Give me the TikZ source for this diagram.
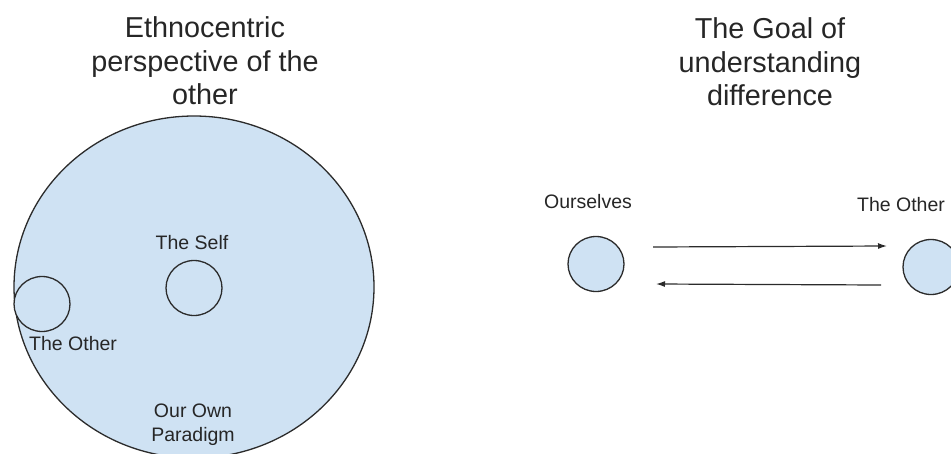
\documentclass[tikz,border=0pt]{standalone}
\usepackage{fontspec}
\setmainfont{Liberation Sans}
\usetikzlibrary{shapes.geometric,arrows.meta}
\definecolor{paleblue}{HTML}{CFE2F3}
\definecolor{edgegray}{HTML}{2B2B2B}
\begin{document}
\begin{tikzpicture}[x=1pt,y=-1pt,
  blob/.style={ellipse,draw=edgegray,fill=paleblue,line width=1.3pt,inner sep=0pt},
  smallblob/.style={blob,minimum width=56pt,minimum height=55pt},
  titletext/.style={align=center,font=\fontsize{28.8}{33.5}\selectfont,text=black!85},
  label/.style={align=center,font=\fontsize{19.5}{24}\selectfont,text=black!85,inner sep=0pt},
  link/.style={draw=edgegray,line width=1.2pt,-{Latex[length=9pt,width=6pt]}}]
\useasboundingbox (0,0) rectangle (951,453);
\clip (0,0) rectangle (951,453);
\node[blob,minimum width=360pt,minimum height=342pt] (paradigm) at (194,287) {};
\node[smallblob] (self) at (194,288) {};
\node[smallblob] (otherin) at (42,304) {};
\node[titletext] (title1) at (205,61) {Ethnocentric\\perspective of the\\other};
\node[label] (selflabel) at (192,243) {The Self};
\node[label,anchor=west] (otherinlabel) at (29,344) {The Other};
\node[label] (paradigmlabel) at (193,425) {Our Own\\Paradigm};
\node[titletext] (title2) at (770,62) {The Goal of\\understanding\\difference};
\node[smallblob] (ourselves) at (596,264) {};
\node[smallblob] (otherout) at (931,267) {};
\node[label] (ourselveslabel) at (588,202) {Ourselves};
\node[label] (otheroutlabel) at (901,205) {The Other};
\coordinate (a1s) at (653,247);
\coordinate (a1e) at (887,246);
\coordinate (a2s) at (881,285);
\coordinate (a2e) at (656,284);
\draw[link] (a1s) -- (a1e);
\draw[link] (a2s) -- (a2e);
\end{tikzpicture}
\end{document}
